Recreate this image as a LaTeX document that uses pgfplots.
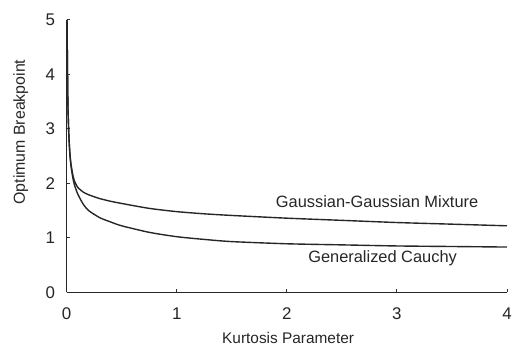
\documentclass[border=0pt]{standalone}
\usepackage{fontspec}
\setmainfont{Liberation Sans}
\usepackage{pgfplots}
\pgfplotsset{compat=1.18}

\pgfplotstableread{
x      y
0.004  5.00
0.008  4.10
0.012  3.45
0.02   2.90
0.03   2.55
0.04   2.35
0.055  2.17
0.07   2.05
0.1    1.93
0.15   1.84
0.2    1.79
0.3    1.72
0.4    1.67
0.5    1.63
0.75   1.54
1.0    1.48
1.25   1.44
1.5    1.41
2.0    1.36
2.5    1.32
3.0    1.28
3.5    1.25
4.0    1.22
}\mixture

\pgfplotstableread{
x      y
0.004  5.00
0.008  4.10
0.012  3.45
0.02   2.90
0.03   2.53
0.04   2.32
0.055  2.12
0.07   1.98
0.1    1.81
0.15   1.62
0.2    1.50
0.3    1.37
0.4    1.29
0.5    1.22
0.75   1.10
1.0    1.02
1.25   0.97
1.5    0.93
2.0    0.89
2.5    0.87
3.0    0.85
3.5    0.84
4.0    0.83
}\cauchy

\begin{document}
\begin{tikzpicture}
\begin{axis}[
  scale only axis,
  width=443pt, height=274pt,
  xmin=0, xmax=4, ymin=0, ymax=5,
  axis lines*=left,
  axis line style={line width=1.1pt, black!85},
  xtick={0,1,2,3,4}, ytick={0,1,2,3,4,5},
  tick align=inside,
  major tick length=3pt,
  tick style={black!80, line width=0.8pt},
  ticklabel style={font=\fontsize{17}{19}\selectfont, black!85},
  /pgf/number format/assume math mode=true,
  xticklabel style={yshift=-12pt},
  yticklabel style={xshift=-8pt},
  xlabel={Kurtosis Parameter},
  ylabel={Optimum Breakpoint},
  xlabel style={font=\fontsize{15.5}{18}\selectfont, black!85,
    at={(rel axis cs:0.503,0)}, anchor=center, yshift=-46pt},
  ylabel style={font=\fontsize{16}{18}\selectfont, black!85,
    at={(rel axis cs:0,0.588)}, anchor=center, yshift=46pt},
  clip=false,
]
\addplot[line width=1.4pt, black!85, smooth, tension=0.4] table[x=x, y=y] {\mixture};
\addplot[line width=1.4pt, black!85, smooth, tension=0.4] table[x=x, y=y] {\cauchy};
\node[font=\fontsize{16.5}{18}\selectfont, black!85] at (axis cs:2.82,1.66) {Gaussian-Gaussian Mixture};
\node[font=\fontsize{16.5}{18}\selectfont, black!85] at (axis cs:2.87,0.62) {Generalized Cauchy};
\path ([xshift=-67pt,yshift=-56pt]rel axis cs:0,0) rectangle ([xshift=5pt,yshift=20pt]rel axis cs:1,1);
\end{axis}
\end{tikzpicture}
\end{document}
